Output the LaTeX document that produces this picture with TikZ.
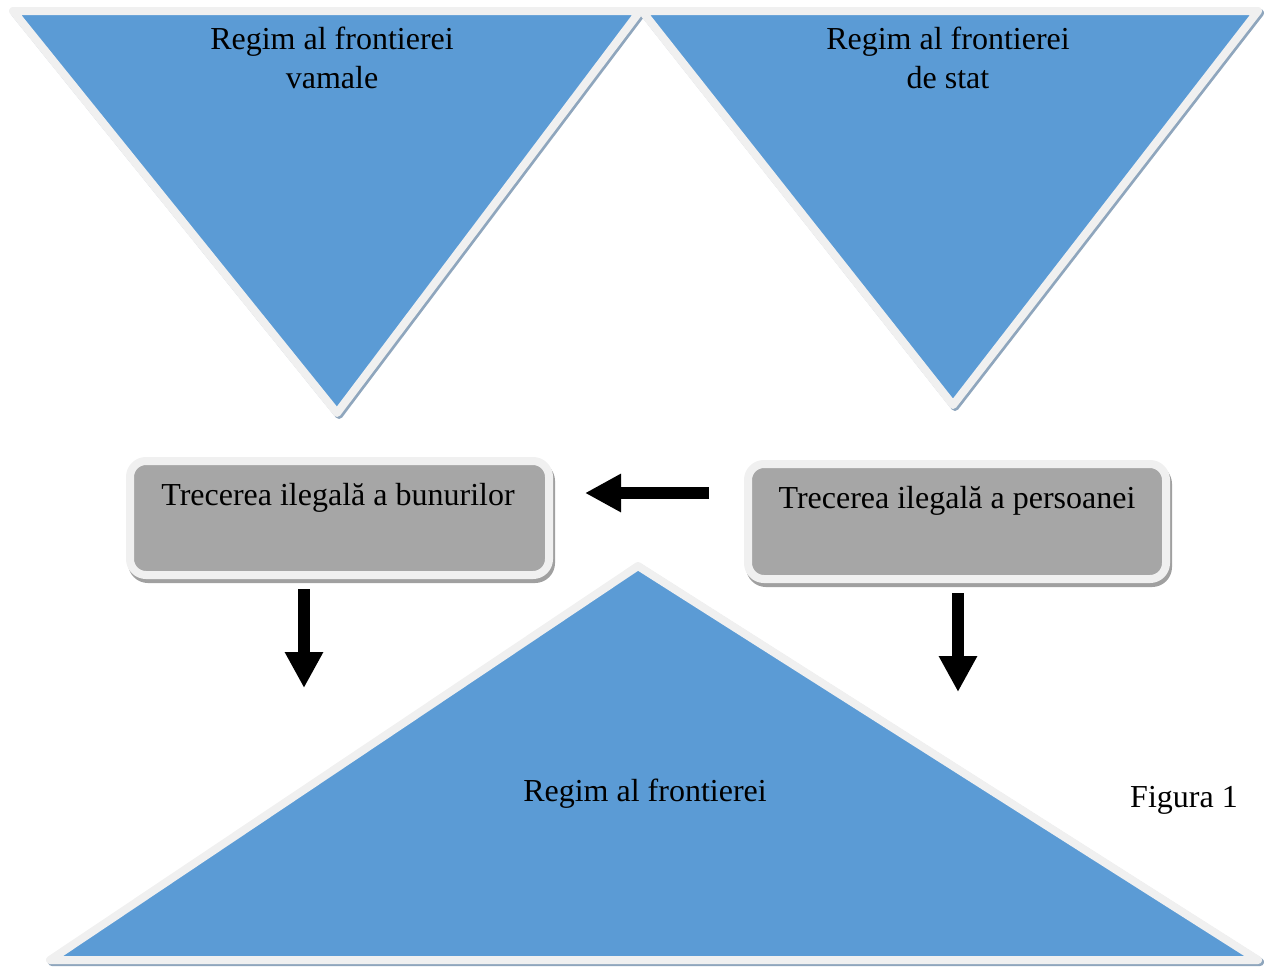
\documentclass[tikz,border=0pt]{standalone}
\usepackage{fontspec}
\setmainfont{Liberation Serif}
\usetikzlibrary{arrows.meta}
\definecolor{tblue}{HTML}{5B9BD5}
\definecolor{tedge}{HTML}{F0F0F0}
\definecolor{tshadow}{HTML}{8FA6BD}
\definecolor{bgray}{HTML}{A6A6A6}
\definecolor{bshadow}{HTML}{A0A0A0}
\tikzset{
  tri/.style={fill=tblue, draw=tedge, line width=8pt, line join=round},
  trishadow/.style={draw=tshadow, line width=8pt, line join=round},
  gbox/.style={fill=bgray, draw=tedge, line width=8pt, rounded corners=16pt},
  gboxshadow/.style={fill=bshadow, draw=bshadow, line width=8pt, rounded corners=16pt},
  lbl/.style={font=\fontsize{32}{39}\selectfont, align=center, inner sep=0pt},
  bigarrow/.style={-{Triangle[length=36pt,width=36pt]}, line width=12pt, shorten >=0pt}
}
\begin{document}
\begin{tikzpicture}[x=1pt,y=-1pt]
\useasboundingbox (0,0) rectangle (1268,967);
% top-left inverted triangle
\draw[trishadow] (15,13) -- (642,13) -- (339,415) -- cycle;
\draw[tri] (13,11) -- (640,11) -- (337,413) -- cycle;
% top-right inverted triangle
\draw[trishadow] (644,13) -- (1260,13) -- (955,407) -- cycle;
\draw[tri] (642,11) -- (1258,11) -- (953,405) -- cycle;
% bottom triangle
\draw[trishadow] (640,568) -- (1260,962) -- (52,962) -- cycle;
\draw[tri] (638,566) -- (1258,960) -- (50,960) -- cycle;
% boxes
\draw[gboxshadow] (132,465) rectangle (551,579);
\draw[gbox] (130,461) rectangle (549,575);
\draw[gboxshadow] (750,468) rectangle (1168,583);
\draw[gbox] (748,464) rectangle (1166,579);
% texts
\node[lbl] (tl) at (332,57.5) {Regim al frontierei\\vamale};
\node[lbl] (tr) at (948,58) {Regim al frontierei\\de stat};
\node[lbl] (bt) at (645,794) {Regim al frontierei};
\node[lbl] (bb) at (338,498) {Trecerea ilegală a bunurilor};
\node[lbl] (bp) at (957,501) {Trecerea ilegală a persoanei};
\node[lbl] (fig) at (1184,800) {Figura 1};
% arrows
\coordinate (a1s) at (709,493);
\coordinate (a1e) at (585,493);
\coordinate (a2s) at (304,589);
\coordinate (a2e) at (304,688);
\coordinate (a3s) at (958,593);
\coordinate (a3e) at (958,692);
\draw[bigarrow] (a1s) -- (a1e);
\draw[bigarrow] (a2s) -- (a2e);
\draw[bigarrow] (a3s) -- (a3e);
\end{tikzpicture}
\end{document}
